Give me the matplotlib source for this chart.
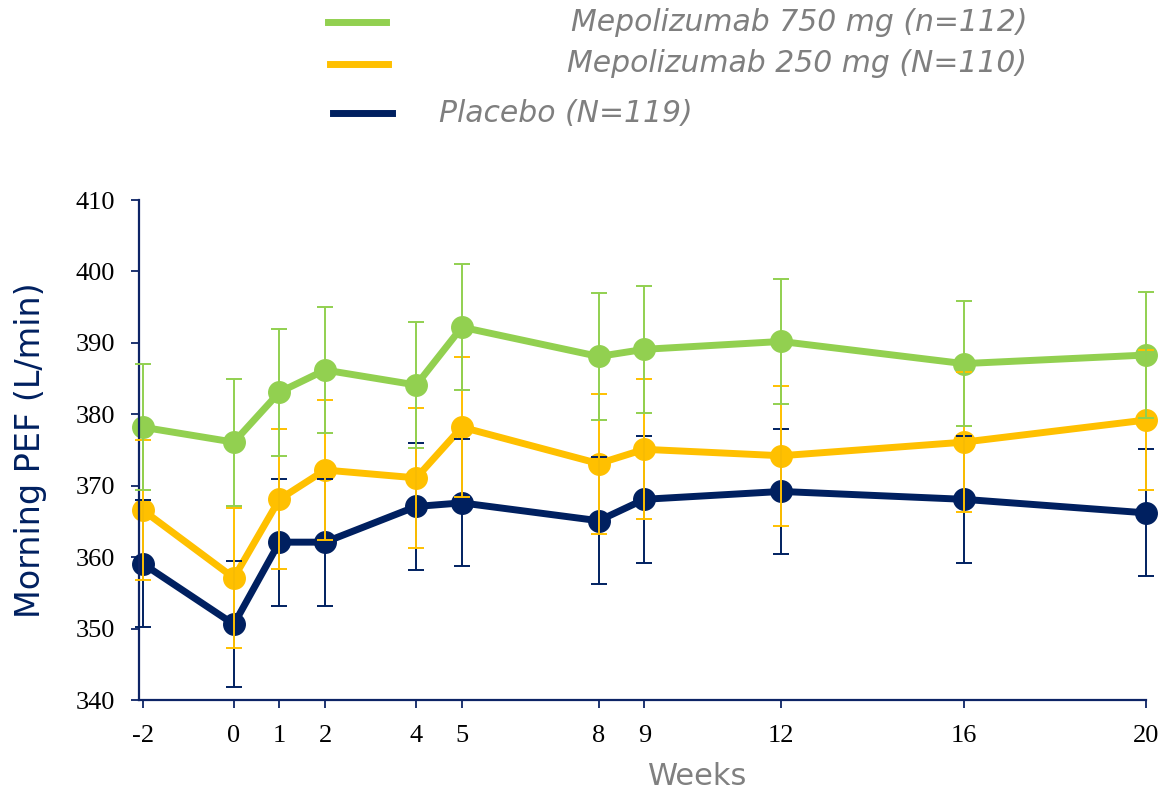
import matplotlib.pyplot as plt

weeks = [-2, 0, 1, 2, 4, 5, 8, 9, 12, 16, 20]

pef_750 = [378.2, 376.1, 383.1, 386.2, 384.1, 392.2, 388.1, 389.1, 390.2, 387.1, 388.3]
err_750 = [8.8, 8.9, 8.9, 8.8, 8.8, 8.8, 8.9, 8.9, 8.8, 8.8, 8.8]

pef_250 = [366.6, 357.1, 368.1, 372.2, 371.1, 378.2, 373.1, 375.1, 374.2, 376.1, 379.2]
err_250 = [9.8, 9.8, 9.8, 9.8, 9.8, 9.8, 9.8, 9.8, 9.8, 9.8, 9.8]

pef_pbo = [359.1, 350.6, 362.1, 362.1, 367.1, 367.6, 365.1, 368.1, 369.2, 368.1, 366.2]
err_pbo = [8.9, 8.8, 8.9, 8.9, 8.9, 8.9, 8.9, 8.9, 8.8, 8.9, 8.9]

groups = [
    ("Mepolizumab 750 mg (n=112)", pef_750, err_750, "#92d050"),
    ("Mepolizumab 250 mg (N=110)", pef_250, err_250, "#ffc000"),
    ("Placebo (N=119)", pef_pbo, err_pbo, "#002060"),
]

navy = "#0d2466"

fig = plt.figure(figsize=(11.62, 7.97), dpi=100)
ax = fig.add_axes([0.1196, 0.1217, 0.8666, 0.6273])

# lines first, placebo at the bottom
for name, y, e, c in groups[::-1]:
    ax.plot(weeks, y, color=c, lw=5, marker="o", ms=15.5, clip_on=False, zorder=2)

# error bars sit on top of the lines
for name, y, e, c in groups[::-1]:
    ax.errorbar(weeks, y, yerr=e, fmt="none", ecolor=c, elinewidth=1.4,
                capsize=5.5, capthick=1.4, clip_on=False, zorder=3)

ax.set_xlim(-2.08, 20.0)
ax.set_ylim(340, 410)
ax.set_xticks(weeks)
ax.set_xticklabels([str(w) for w in weeks])
ax.set_yticks(range(340, 411, 10))

for side in ["top", "right"]:
    ax.spines[side].set_visible(False)
for side in ["left", "bottom"]:
    ax.spines[side].set_color(navy)
    ax.spines[side].set_linewidth(1.6)

ax.tick_params(axis="both", direction="out", length=6, width=1.3, color=navy,
               labelsize=19, labelcolor="black")
ax.tick_params(axis="y", pad=11)
ax.tick_params(axis="x", pad=12)
for lbl in ax.get_xticklabels() + ax.get_yticklabels():
    lbl.set_fontfamily("Liberation Serif")

ax.set_ylabel("Morning PEF (L/min)", fontsize=24, color="#002060", va="center")
ax.yaxis.set_label_coords(-0.108, 0.5)
ax.set_xlabel("Weeks", fontsize=22, color="#808080")
ax.xaxis.set_label_coords(0.555, -0.125)

# legend drawn by hand at the top
leg_y = [0.972, 0.920, 0.858]
leg_x0 = [0.282, 0.284, 0.287]
for (name, y, e, c), yy, x0 in zip(groups, leg_y, leg_x0):
    fig.add_artist(plt.Line2D([x0, x0 + 0.050], [yy, yy], color=c, lw=5,
                              transform=fig.transFigure))
fig.text(0.884, leg_y[0], groups[0][0], ha="right", va="center", fontsize=21.5,
         style="italic", color="#7f7f7f")
fig.text(0.884, leg_y[1], groups[1][0], ha="right", va="center", fontsize=21.5,
         style="italic", color="#7f7f7f")
fig.text(0.378, leg_y[2], groups[2][0], ha="left", va="center", fontsize=21.5,
         style="italic", color="#7f7f7f")

fig.savefig("out.png", dpi=100)
